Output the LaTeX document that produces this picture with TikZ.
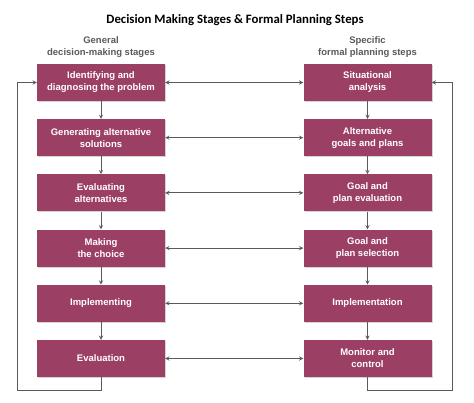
\documentclass[tikz,border=0pt]{standalone}
\usepackage{fontspec}
\setmainfont{Liberation Sans}
\newfontfamily\titlefont{Carlito}
\usetikzlibrary{shapes.geometric, arrows, calc, positioning, shadows}
\definecolor{plum}{HTML}{9C3F65}
\definecolor{wire}{HTML}{5A5A5A}
\tikzstyle{stage} = [rectangle, minimum width=128pt, minimum height=37pt, text centered, align=center, fill=plum, text=white, font=\fontsize{9.5}{12}\selectfont\bfseries, drop shadow={shadow xshift=1pt, shadow yshift=-1pt, opacity=0.35}]
\tikzstyle{heading} = [align=center, text=wire, font=\fontsize{9.5}{12}\selectfont\bfseries]
\tikzstyle{line} = [draw=wire, line width=0.9pt, ->, >=stealth]
\tikzstyle{both} = [draw=wire, line width=0.9pt, <->, >=stealth]

\begin{document}
\begin{tikzpicture}
  \useasboundingbox (0,0) rectangle (474pt,-403pt);
  \node (title) [font=\titlefont\fontsize{12.8}{14}\selectfont\bfseries, xshift=235pt, yshift=-20pt] {Decision Making Stages \& Formal Planning Steps};
  \node (general) [heading, xshift=101pt, yshift=-47pt] {General\\decision-making stages};
  \node (specific) [heading, xshift=367.5pt, yshift=-47pt] {Specific\\formal planning steps};

  % left column
  \node (identify) [stage, xshift=101pt, yshift=-82.5pt] {Identifying and\\diagnosing the problem};
  \node (generate) [stage, xshift=101pt, yshift=-137.7pt] {Generating alternative\\solutions};
  \path [line] (identify) -- (generate);
  \node (evaluate) [stage, xshift=101pt, yshift=-192.9pt] {Evaluating\\alternatives};
  \path [line] (generate) -- (evaluate);
  \node (choice) [stage, xshift=101pt, yshift=-248.1pt] {Making\\the choice};
  \path [line] (evaluate) -- (choice);
  \node (implementing) [stage, xshift=101pt, yshift=-303.3pt] {Implementing};
  \path [line] (choice) -- (implementing);
  \node (evaluation) [stage, xshift=101pt, yshift=-358.5pt] {Evaluation};
  \path [line] (implementing) -- (evaluation);

  % right column
  \node (situation) [stage, xshift=367.5pt, yshift=-82.5pt] {Situational\\analysis};
  \node (goals) [stage, xshift=367.5pt, yshift=-137.7pt] {Alternative\\goals and plans};
  \path [line] (situation) -- (goals);
  \node (goaleval) [stage, xshift=367.5pt, yshift=-192.9pt] {Goal and\\plan evaluation};
  \path [line] (goals) -- (goaleval);
  \node (goalsel) [stage, xshift=367.5pt, yshift=-248.1pt] {Goal and\\plan selection};
  \path [line] (goaleval) -- (goalsel);
  \node (implementation) [stage, xshift=367.5pt, yshift=-303.3pt] {Implementation};
  \path [line] (goalsel) -- (implementation);
  \node (monitor) [stage, xshift=367.5pt, yshift=-358.5pt] {Monitor and\\control};
  \path [line] (implementation) -- (monitor);

  % links across
  \path [both] (identify) -- (situation);
  \path [both] (generate) -- (goals);
  \path [both] (evaluate) -- (goaleval);
  \path [both] (choice) -- (goalsel);
  \path [both] (implementing) -- (implementation);
  \path [both] (evaluation) -- (monitor);

  % feedback loops
  \coordinate (lcorner) at (17pt,-390pt);
  \coordinate (rcorner) at (452pt,-390pt);
  \path [line] (evaluation.south) |- (lcorner) |- (identify.west);
  \path [line] (monitor.south) |- (rcorner) |- (situation.east);
\end{tikzpicture}
\end{document}
